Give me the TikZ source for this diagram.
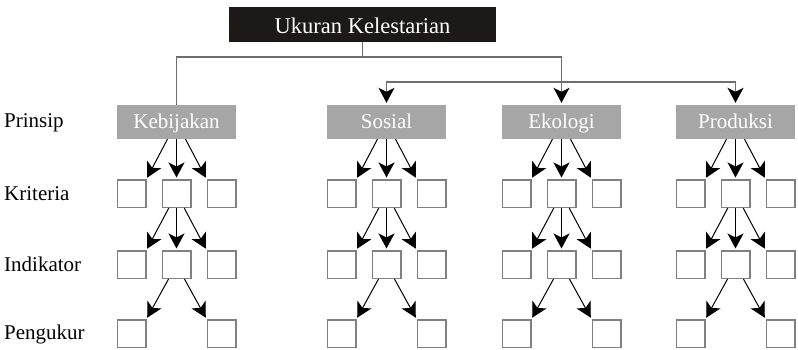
\documentclass[tikz,border=0pt]{standalone}
\usepackage{fontspec}
\setmainfont{Liberation Serif}
\usetikzlibrary{positioning,arrows.meta}
\definecolor{judulhitam}{HTML}{1E1919}
\definecolor{prinsipabu}{HTML}{A6A6A6}
\definecolor{garisabu}{HTML}{6E6E6E}
\definecolor{kotakabu}{HTML}{808080}

\begin{document}
\begin{tikzpicture}[x=1pt,y=-1pt,node distance=45pt,on grid,
	judul/.style={fill=judulhitam,text=white,minimum width=267pt,minimum height=35pt,inner sep=0pt,text height=20pt,text depth=2pt,font=\fontsize{22.5}{26}\selectfont},
	prinsip/.style={fill=prinsipabu,text=white,minimum width=119pt,minimum height=34pt,inner sep=0pt,text height=15pt,text depth=3pt,font=\fontsize{21}{25}\selectfont},
	kotak/.style={draw=kotakabu,line width=1.5pt,minimum width=28.5pt,minimum height=27.5pt,inner sep=0pt},
	baris/.style={anchor=base west,inner sep=0pt,font=\fontsize{21}{25}\selectfont},
	panah/.style={-{Stealth[length=15pt,width=16pt,inset=4pt]},line width=1pt,shorten >=1.5pt},
	garis/.style={draw=garisabu,line width=1.5pt},
	ujung/.style={-{Stealth[length=15pt,width=16pt,inset=4pt,black]},shorten >=2pt}]
	\useasboundingbox (0,0) rectangle (798,349);

	\node[judul] (judul) at (362.5,24.5) {Ukuran Kelestarian};

	% tingkatan
	\node[baris] (lprinsip)   at (4,127.5) {Prinsip};
	\node[baris] (lkriteria)  at (4,200)   {Kriteria};
	\node[baris] (lindikator) at (4,271.5) {Indikator};
	\node[baris] (lpengukur)  at (4,339)   {Pengukur};

	\foreach \n/\teks/\x in {keb/Kebijakan/176.5, sos/Sosial/386.5, eko/Ekologi/561.5, pro/Produksi/735.5}{
		\node[prinsip] (\n)    at (\x,122)           {\teks};
		\node[kotak]   (\n-k2) [below=71.5pt of \n]  {};
		\node[kotak]   (\n-k1) [left =of \n-k2]      {};
		\node[kotak]   (\n-k3) [right=of \n-k2]      {};
		\node[kotak]   (\n-i2) [below=71pt of \n-k2] {};
		\node[kotak]   (\n-i1) [left =of \n-i2]      {};
		\node[kotak]   (\n-i3) [right=of \n-i2]      {};
		\node[kotak]   (\n-p1) [below=69pt of \n-i1] {};
		\node[kotak]   (\n-p3) [below=69pt of \n-i3] {};
		\path[panah]
			(\n)    edge                   (\n-k1.north east)
			        edge [line width=1.6pt] (\n-k2)
			        edge                   (\n-k3.north west)
			(\n-k2) edge                   (\n-i1.north east)
			        edge [line width=1.6pt] (\n-i2)
			        edge                   (\n-i3.north west)
			(\n-i2) edge                   (\n-p1.north east)
			        edge                   (\n-p3.north west);
	}

	% cabang dari judul
	\coordinate (cabang) at ([yshift=-15pt]judul.south);
	\draw[garis] (judul.south) -- (cabang) -| (keb.north);
	\draw[garis,ujung] (cabang) -| (eko.north);
	\draw[garis,{Stealth[length=15pt,width=16pt,inset=4pt,black]}-{Stealth[length=15pt,width=16pt,inset=4pt,black]},shorten <=2pt,shorten >=2pt]
		(sos.north) -- ++(0,-23) -| (pro.north);
\end{tikzpicture}
\end{document}
